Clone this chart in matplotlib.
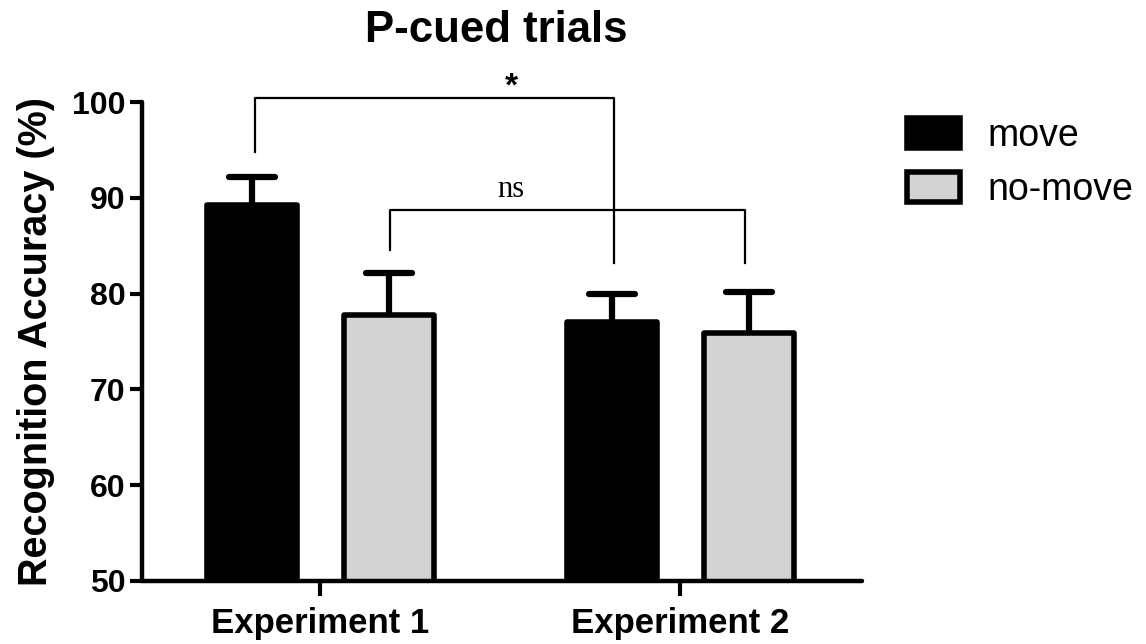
import numpy as np
import matplotlib
matplotlib.use("Agg")
import matplotlib.pyplot as plt
import matplotlib.patches as mpatches

plt.rcParams['font.family'] = ['Liberation Sans', 'DejaVu Sans']

# data
experiments = ['Experiment 1', 'Experiment 2']
move_mean = [89.2, 77.0]
move_sem = [3.0, 3.0]
nomove_mean = [77.8, 75.9]
nomove_sem = [4.3, 4.3]

# significance brackets: (x left, x right, y top, y left leg end, y right leg end, label)
sig_star = (-0.18, 0.815, 100.4, 94.8, 83.2, '*')
sig_ns = (0.195, 1.18, 88.7, 84.5, 83.2, 'ns')

fig = plt.figure(figsize=(11.46, 6.44), dpi=100)
ax = fig.add_axes([142/1146, 1-581/644, 720/1146, 479/644])

x = np.arange(len(experiments))
off = 0.19
w = 0.25
lw = 4
cap = 0.064

# error bars (upper only), behind the bars, with rounded caps
for xs, m, e in [(x - off, move_mean, move_sem), (x + off, nomove_mean, nomove_sem)]:
    tops = np.array(m) + np.array(e)
    ax.vlines(xs, m, tops, colors='black', lw=4.5, zorder=1)
    ax.hlines(tops, xs - cap, xs + cap, colors='black', lw=4.5, zorder=1, capstyle='round')

b1 = ax.bar(x - off, move_mean, w, color='black', edgecolor='black', linewidth=lw, zorder=2,
            label='move')
b2 = ax.bar(x + off, nomove_mean, w, color='#d3d3d3', edgecolor='black', linewidth=lw, zorder=2,
            label='no-move')
for p in list(b1) + list(b2):
    p.set_joinstyle('round')

ax.set_ylim(50, 100)
ax.set_xlim(-0.495, 1.505)
ax.set_yticks([50, 60, 70, 80, 90, 100])
ax.set_xticks(x)
ax.set_xticklabels(experiments, fontsize=25, fontweight='bold')
for t in ax.get_yticklabels():
    t.set_fontsize(23)
    t.set_fontweight('bold')
ax.tick_params(axis='y', length=9, width=3, pad=3)
ax.tick_params(axis='x', length=11, width=3, pad=8)
for s in ['top', 'right']:
    ax.spines[s].set_visible(False)
for s in ['left', 'bottom']:
    ax.spines[s].set_linewidth(3.2)
    ax.spines[s].set_capstyle('round')

ax.set_ylabel('Recognition Accuracy (%)', fontsize=28.5, fontweight='bold', labelpad=12)

# brackets
for (xl, xr, yt, yl, yr, lab) in [sig_star, sig_ns]:
    ax.plot([xl, xl, xr, xr], [yl, yt, yt, yr], color='black', lw=1.6, clip_on=False, zorder=3)
ax.text(0.53, 101.6, '*', ha='center', va='center', fontsize=24, fontweight='bold')
ax.text(0.53, 90.1, 'ns', ha='center', va='baseline', fontsize=22, family='Liberation Serif')

fig.text(496/1146, 1-30/644, 'P-cued trials', ha='center', va='center', fontsize=31.5,
         fontweight='bold')

handles = [mpatches.Patch(facecolor='black', edgecolor='black', linewidth=4, joinstyle='round', label='move'),
           mpatches.Patch(facecolor='#d3d3d3', edgecolor='black', linewidth=4, joinstyle='round', label='no-move')]
fig.legend(handles=handles, loc='upper left', bbox_to_anchor=(907/1146, 1-118/644), frameon=False,
           fontsize=27, handlelength=1.42, handleheight=0.82, handletextpad=0.72,
           labelspacing=0.48, borderpad=0, borderaxespad=0)

fig.savefig('out.png', dpi=100)
